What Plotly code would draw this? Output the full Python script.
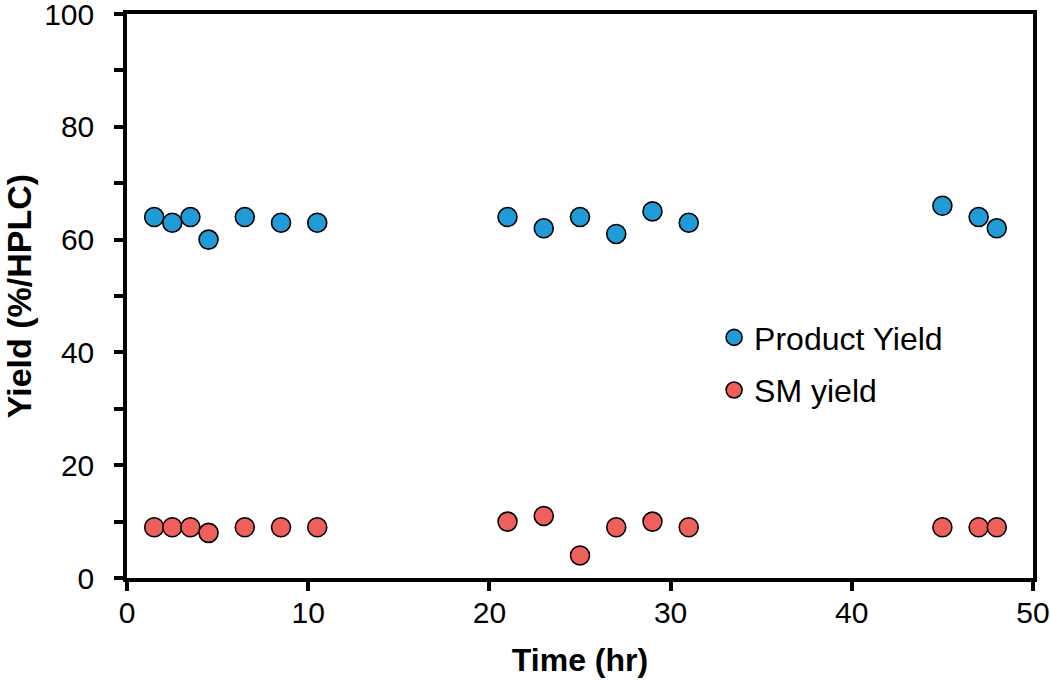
import plotly.graph_objects as go

time_hr = [1.5, 2.5, 3.5, 4.5, 6.5, 8.5, 10.5, 21, 23, 25, 27, 29, 31, 45, 47, 48]
product_yield = [64, 63, 64, 60, 64, 63, 63, 64, 62, 64, 61, 65, 63, 66, 64, 62]
sm_yield = [9, 9, 9, 8, 9, 9, 9, 10, 11, 4, 9, 10, 9, 9, 9, 9]

FONT = "Liberation Sans, Arial, sans-serif"

fig = go.Figure()
fig.add_trace(go.Scatter(
    x=time_hr, y=product_yield, mode="markers", name="Product Yield",
    legendgroup="a",
    marker=dict(size=19, color="#219BD8", line=dict(color="black", width=1.6)),
))
fig.add_trace(go.Scatter(
    x=time_hr, y=sm_yield, mode="markers", name="SM yield",
    legendgroup="b",
    marker=dict(size=19, color="#EF5F5C", line=dict(color="black", width=1.6)),
))

fig.update_layout(
    width=1050, height=686,
    margin=dict(l=127, r=17, t=14, b=108),
    paper_bgcolor="white", plot_bgcolor="white",
    font=dict(family=FONT, size=30, color="black"),
    showlegend=True,
    legend=dict(x=0.648, y=0.475, xanchor="left", yanchor="top",
                bgcolor="rgba(0,0,0,0)", font=dict(size=32, family=FONT),
                tracegroupgap=8, itemwidth=30),
)
fig.update_xaxes(
    range=[0, 50], dtick=10, tick0=0, automargin=False,
    showgrid=False, zeroline=False,
    showline=True, linecolor="black", linewidth=3.5, mirror=True,
    ticks="outside", ticklen=9, tickwidth=3.5, tickcolor="black",
    ticklabelstandoff=-4, ticklabeloverflow="allow",
    tickfont=dict(size=30, family=FONT),
    title=dict(text="<b>Time (hr)</b>", font=dict(size=32, family=FONT), standoff=22),
)
fig.update_yaxes(
    range=[0, 100], dtick=20, tick0=0, automargin=False,
    showgrid=False, zeroline=False,
    showline=True, linecolor="black", linewidth=3.5, mirror=True,
    ticks="outside", ticklen=9, tickwidth=3.5, tickcolor="black",
    ticklabelstandoff=14, ticklabeloverflow="allow",
    minor=dict(dtick=10, tick0=0, ticks="outside", ticklen=9, tickwidth=3.5, tickcolor="black", showgrid=False),
    tickfont=dict(size=30, family=FONT),
    title=dict(text="<b>Yield (%/HPLC)</b>", font=dict(size=34, family=FONT), standoff=45),
)

fig.write_html(
    "out.html",
    config={"displayModeBar": False},
    post_script="document.body.style.margin='0px';document.body.style.overflow='hidden';",
)
